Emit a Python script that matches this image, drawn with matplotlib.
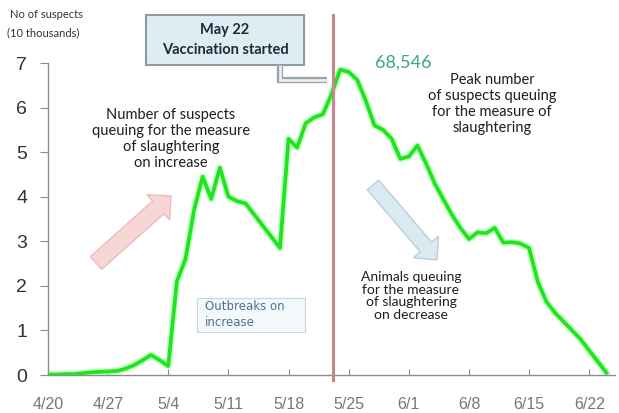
import matplotlib
matplotlib.use("Agg")
import matplotlib.pyplot as plt
from matplotlib.patches import FancyArrow, Rectangle

# ---- data (values in 10 thousands, one per day starting 4/20) ----
suspects = [
    0.01, 0.01, 0.02, 0.02, 0.04, 0.06, 0.07, 0.08, 0.09, 0.14,   # 4/20-4/29
    0.22, 0.33, 0.45, 0.33, 0.20, 2.10, 2.60, 3.70, 4.45, 3.95,   # 4/30-5/9
    4.65, 4.00, 3.90, 3.85, 3.60, 3.35, 3.10, 2.85, 5.30, 5.10,   # 5/10-5/19
    5.65, 5.78, 5.85, 6.30, 6.85, 6.80, 6.62, 6.15, 5.60, 5.50,   # 5/20-5/29
    5.30, 4.85, 4.90, 5.15, 4.75, 4.30, 3.95, 3.60, 3.30, 3.05,   # 5/30-6/8
    3.20, 3.18, 3.30, 2.97, 2.98, 2.95, 2.85, 2.10, 1.65, 1.40,   # 6/9-6/18
    1.20, 1.00, 0.80, 0.55, 0.30, 0.05,                           # 6/19-6/24
]
days = list(range(len(suspects)))
tick_days = [0, 7, 14, 21, 28, 35, 42, 49, 56, 63]
tick_labels = ["4/20", "4/27", "5/4", "5/11", "5/18", "5/25", "6/1", "6/8", "6/15", "6/22"]
y_ticks = [0, 1, 2, 3, 4, 5, 6, 7]
vaccination_day = 33.2
peak_label = "68,546"

W, H = 619, 413
fig = plt.figure(figsize=(W / 100, H / 100), dpi=100)
ax = fig.add_axes([48 / W, 38 / H, 567 / W, 312 / H])

ax.plot(days, suspects, color="#a8ffa8", lw=5.2, alpha=0.6, solid_joinstyle="round", zorder=2)
ax.plot(days, suspects, color="#1fe41f", lw=2.7, solid_joinstyle="round", zorder=3)
ax.set_xlim(0, 66)
ax.set_ylim(0, 7)
for s in ["top", "right"]:
    ax.spines[s].set_visible(False)
for s in ["left", "bottom"]:
    ax.spines[s].set_color("#8c8c8c")
    ax.spines[s].set_linewidth(1.0)
ax.set_xticks(tick_days, tick_labels)
ax.set_yticks(y_ticks)
ax.tick_params(axis="x", direction="in", length=4, color="#8c8c8c", pad=16,
               labelsize=11.5, labelcolor="#777777")
ax.tick_params(axis="y", direction="out", length=6, color="#8c8c8c", pad=9,
               labelsize=14, labelcolor="#333333")
for lbl in ax.get_xticklabels() + ax.get_yticklabels():
    lbl.set_fontfamily("Liberation Sans")

ax.axvline(vaccination_day, ymin=-0.016, ymax=1.154, color="#c8858c", lw=2.2,
           clip_on=False, zorder=4)

# ---- overlay in pixel coordinates for annotations ----
ov = fig.add_axes([0, 0, 1, 1])
ov.set_xlim(0, W)
ov.set_ylim(H, 0)
ov.axis("off")

ov.text(10, 15, "No of suspects", fontsize=8, ha="left", va="center",
        color="#333333", family="Lato")
ov.text(7, 33, "(10 thousands)", fontsize=8, ha="left", va="center",
        color="#333333", family="Lato")

ov.add_patch(Rectangle((146, 15), 158, 50, facecolor="#dcedf3", edgecolor="#8d9ba3", lw=1.5))
ov.text(225, 40, "May 22\nVaccination started", ha="center", va="center",
        fontsize=10.5, fontweight="bold", family="Lato", color="#1b2b38", linespacing=1.6)
ov.plot([280, 280, 327], [65, 80, 80], color="#9aa3a8", lw=4.5, solid_joinstyle="miter",
        solid_capstyle="butt")
ov.plot([280, 280, 327], [65, 80, 80], color="#e8eef1", lw=2.0, solid_joinstyle="miter",
        solid_capstyle="butt")

ov.text(403, 63, peak_label, ha="center", va="center", fontsize=13,
        color="#40a57c", family="Lato")
ov.text(492, 104, "Peak number\nof suspects queuing\nfor the measure of\nslaughtering",
        ha="center", va="center", fontsize=10.5, family="Lato", color="#1e1e1e",
        linespacing=1.2)
ov.text(171, 139, "Number of suspects\nqueuing for the measure\nof slaughtering\non increase",
        ha="center", va="center", fontsize=10.5, family="Lato", color="#1e1e1e",
        linespacing=1.2)
ov.text(411, 296, "Animals queuing\nfor the measure\nof slaughtering\non decrease",
        ha="center", va="center", fontsize=10, family="Lato", color="#1e1e1e",
        linespacing=1.05)

ov.add_patch(Rectangle((197, 298), 108, 34, facecolor="#f3f9fb", edgecolor="#c5d7e2", lw=0.8))
ov.text(205, 315, "Outbreaks on\nincrease", ha="left", va="center", fontsize=8.5,
        family="DejaVu Sans", color="#4c7090", linespacing=1.3)

ov.add_patch(FancyArrow(96, 263, 75, -67, width=17, head_width=34, head_length=17,
                        length_includes_head=True, facecolor="#f7d6d6", edgecolor="#ecbcbc", lw=1))
ov.add_patch(FancyArrow(373, 185, 64, 75, width=15, head_width=33, head_length=17,
                        length_includes_head=True, facecolor="#dbe9f0", edgecolor="#b5d0de", lw=1))

fig.savefig("out.png", dpi=100)
